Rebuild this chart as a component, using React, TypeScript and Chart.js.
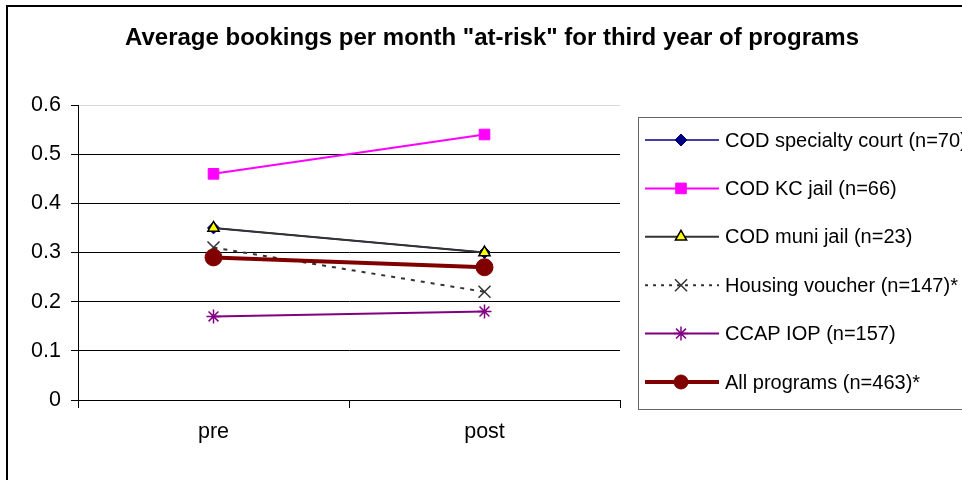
import React, { useEffect, useRef } from "react";
import { Chart, registerables } from "chart.js";
import { drawPoint } from "chart.js/helpers";

Chart.register(...registerables);

const chartTitle = 'Average bookings per month "at-risk" for third year of programs';
const categories = ["pre", "post"];
const seriesLabels = [
  "COD specialty court (n=70)",
  "COD KC jail (n=66)",
  "COD muni jail (n=23)",
  "Housing voucher (n=147)*",
  "CCAP IOP (n=157)",
  "All programs (n=463)*",
];
const specialtyCourt = [0.35, 0.3];
const kcJail = [0.46, 0.54];
const muniJail = [0.35, 0.3];
const housingVoucher = [0.31, 0.22];
const ccapIop = [0.17, 0.18];
const allPrograms = [0.29, 0.27];
const yTickLabels = ["0", "0.1", "0.2", "0.3", "0.4", "0.5", "0.6"];

const FONT = "'Liberation Sans', Arial, sans-serif";

const framePlugin = {
  id: "frameAndLegend",
  afterDraw(chart: any) {
    const ctx = chart.ctx as CanvasRenderingContext2D;
    ctx.save();
    // outer frame
    ctx.strokeStyle = "#000";
    ctx.lineWidth = 2;
    ctx.setLineDash([]);
    ctx.strokeRect(7, 6, 1000, 520);
    // title
    ctx.fillStyle = "#000";
    ctx.font = `bold 24px ${FONT}`;
    ctx.textAlign = "center";
    ctx.textBaseline = "middle";
    ctx.fillText(chartTitle, 492, 38);
    // legend box
    ctx.lineWidth = 1;
    ctx.strokeStyle = "#666";
    ctx.strokeRect(638.5, 117.5, 400, 292);
    const datasets = chart.data.datasets;
    datasets.forEach((ds: any, i: number) => {
      const y = 140 + i * 48.4;
      ctx.save();
      ctx.strokeStyle = ds.borderColor;
      ctx.lineWidth = ds.borderWidth;
      ctx.setLineDash(ds.legendDash || ds.borderDash || []);
      ctx.beginPath();
      ctx.moveTo(645, y);
      ctx.lineTo(719, y);
      ctx.stroke();
      ctx.setLineDash([]);
      ctx.fillStyle = ds.pointBackgroundColor;
      ctx.strokeStyle = ds.pointBorderColor;
      ctx.lineWidth = ds.pointBorderWidth;
      drawPoint(
        ctx,
        {
          pointStyle: ds.pointStyle,
          radius: ds.legendRadius ?? ds.pointRadius,
          rotation: 0,
          borderWidth: ds.pointBorderWidth,
        } as any,
        681,
        y
      );
      ctx.restore();
      ctx.fillStyle = "#000";
      ctx.font = `20px ${FONT}`;
      ctx.textAlign = "left";
      ctx.textBaseline = "middle";
      ctx.fillText(ds.label, 725, y + 1);
    });
    ctx.restore();
  },
};

export default function App() {
  const ref = useRef<HTMLCanvasElement>(null);
  useEffect(() => {
    if (!ref.current) return;
    const mk = (
      i: number,
      data: number[],
      color: string,
      width: number,
      pointStyle: string,
      radius: number,
      pointBg: string,
      pointBorder: string,
      pointBorderWidth: number,
      extra: any = {}
    ) => ({
      label: seriesLabels[i],
      data,
      borderColor: color,
      backgroundColor: pointBg,
      borderWidth: width,
      pointStyle,
      pointRadius: radius,
      pointBackgroundColor: pointBg,
      pointBorderColor: pointBorder,
      pointBorderWidth: pointBorderWidth,
      tension: 0,
      fill: false,
      order: 10 - i,
      ...extra,
    });
    const chart = new Chart(ref.current, {
      type: "line",
      data: {
        labels: categories,
        datasets: [
          mk(0, specialtyCourt, "#000080", 1.5, "rectRot", 6, "#000080", "#000080", 1),
          mk(1, kcJail, "#FF00FF", 2, "rect", 7.5, "#FF00FF", "#FF00FF", 1),
          mk(2, muniJail, "#333333", 2, "triangle", 6.5, "#FFFF00", "#000000", 1.5),
          mk(3, housingVoucher, "#333333", 2, "crossRot", 8.5, "#333333", "#333333", 1.5, {
            borderDash: [4, 6],
            legendDash: [3, 5],
          }),
          mk(4, ccapIop, "#800080", 2, "star", 7, "#800080", "#800080", 1.5),
          mk(5, allPrograms, "#800000", 4, "circle", 8.5, "#800000", "#800000", 1, {
            legendRadius: 7,
          }),
        ] as any,
      },
      options: {
        responsive: false,
        animation: false,
        events: [],
        layout: { padding: { left: 18, right: 342, top: 105, bottom: 0 } },
        plugins: {
          legend: { display: false },
          title: { display: false },
          tooltip: { enabled: false },
        },
        scales: {
          x: {
            type: "category",
            offset: true,
            afterFit: (s: any) => {
              s.height = 80;
            },
            grid: {
              offset: true,
              drawOnChartArea: false,
              tickLength: 8,
              color: "#000",
            },
            border: { display: true, color: "#000", width: 1 },
            ticks: {
              color: "#000",
              font: { family: FONT, size: 21.5 },
              padding: 11,
            },
          },
          y: {
            min: 0,
            max: 0.6,
            afterFit: (s: any) => {
              s.width = 60;
            },
            grid: {
              color: (c: any) => (c.tick && c.tick.value >= 0.59 ? "#d9d9d9" : "#000"),
              tickColor: "#000",
              tickLength: 7,
            },
            border: { display: true, color: "#000", width: 1 },
            ticks: {
              stepSize: 0.1,
              color: "#000",
              font: { family: FONT, size: 21.5 },
              padding: 10,
              callback: (_v: any, idx: number) => yTickLabels[idx],
            },
          },
        },
      },
      plugins: [framePlugin],
    });
    return () => chart.destroy();
  }, []);
  return (
    <div style={{ position: "absolute", left: 0, top: 0, width: 962, height: 480, background: "#fff", overflow: "hidden" }}>
      <canvas ref={ref} width={962} height={480} style={{ display: "block" }} />
    </div>
  );
}
